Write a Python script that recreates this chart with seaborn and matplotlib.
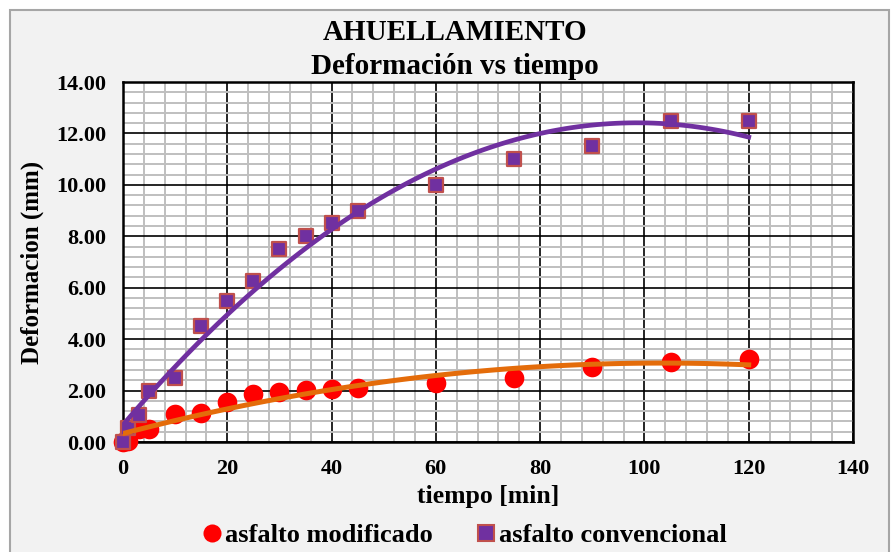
import matplotlib
matplotlib.use("Agg")
import matplotlib.pyplot as plt
import seaborn as sns
import pandas as pd
import numpy as np
from matplotlib.ticker import MultipleLocator, FormatStrFormatter
from matplotlib.lines import Line2D
from matplotlib.patches import Rectangle

# ---- data ----
tiempo = [0, 1, 3, 5, 10, 15, 20, 25, 30, 35, 40, 45, 60, 75, 90, 105, 120]
modificado = [0.0, 0.05, 0.5, 0.5, 1.08, 1.12, 1.55, 1.85, 1.95, 2.02, 2.08, 2.1, 2.3, 2.48, 2.9, 3.1, 3.22]
convencional = [0.0, 0.55, 1.05, 2.0, 2.5, 4.5, 5.5, 6.25, 7.5, 8.0, 8.5, 9.0, 10.0, 11.0, 11.5, 12.5, 12.5]
labels = ["asfalto modificado", "asfalto convencional"]
title_lines = ["AHUELLAMIENTO", "Deformación vs tiempo"]
xlabel = "tiempo [min]"
ylabel = "Deformacion (mm)"

df = pd.DataFrame({"t": tiempo, "mod": modificado, "conv": convencional})

plt.rcParams["font.family"] = ["Liberation Serif", "DejaVu Serif"]
plt.rcParams["font.weight"] = "bold"

W, H = 893, 552
fig = plt.figure(figsize=(W / 100, H / 100), dpi=100, facecolor="white")
fig.patches.append(Rectangle((10 / W, -0.05), (879) / W, (H - 10) / H + 0.05,
                             transform=fig.transFigure, facecolor="#F2F2F2",
                             edgecolor="#A6A6A6", linewidth=1.5, zorder=-10))

ax = fig.add_axes([123 / W, (H - 442) / H, 730 / W, 360 / H])
ax.set_facecolor("white")

red = "#FF0000"
purple = "#7030A0"
orange = "#E46C0A"
edge = "#C0504D"

sns.scatterplot(data=df, x="t", y="mod", ax=ax, color=red, s=200, marker="o",
                linewidth=0, zorder=6, clip_on=False)
sns.scatterplot(data=df, x="t", y="conv", ax=ax, color=purple, s=105, marker="s",
                edgecolor=edge, linewidth=1.6, zorder=6, clip_on=False)
sns.regplot(data=df, x="t", y="mod", ax=ax, order=2, scatter=False, ci=None,
            truncate=True, line_kws=dict(color=orange, lw=3.6, zorder=7))
sns.regplot(data=df, x="t", y="conv", ax=ax, order=2, scatter=False, ci=None,
            truncate=True, line_kws=dict(color=purple, lw=3.4, zorder=7))

ax.set_xlim(0, 140)
ax.set_ylim(0, 14)
ax.xaxis.set_major_locator(MultipleLocator(20))
ax.xaxis.set_minor_locator(MultipleLocator(4))
ax.yaxis.set_major_locator(MultipleLocator(2))
ax.yaxis.set_minor_locator(MultipleLocator(0.4))
ax.yaxis.set_major_formatter(FormatStrFormatter("%.2f"))
ax.set_axisbelow(True)
ax.grid(which="minor", color="#BFBFBF", lw=1.4)
ax.grid(which="major", color="black", lw=1.2)
ax.tick_params(which="both", length=0)
ax.tick_params(axis="y", pad=12, labelsize=16)
ax.tick_params(axis="x", pad=12, labelsize=16)
for lab in ax.get_xticklabels() + ax.get_yticklabels():
    lab.set_fontweight("bold")
for sp in ax.spines.values():
    sp.set_color("black")
    sp.set_linewidth(1.8)
    sp.set_zorder(5)

ax.set_xlabel(xlabel, fontsize=18.5, fontweight="bold", va="center")
ax.xaxis.set_label_coords(0.5, (442 - 497) / 360)
ax.set_ylabel(ylabel, fontsize=18, fontweight="bold", va="center")
ax.yaxis.set_label_coords((32 - 123) / 730, 0.5)

fig.text(455 / W, 1 - 32 / H, title_lines[0], ha="center", va="center",
         fontsize=21, fontweight="bold")
fig.text(455 / W, 1 - 66 / H, title_lines[1], ha="center", va="center",
         fontsize=21, fontweight="bold")

handles = [
    Line2D([], [], marker="o", ls="none", color=red, markersize=13, markeredgewidth=0),
    Line2D([], [], marker="s", ls="none", color=purple, markersize=11,
           markeredgecolor=edge, markeredgewidth=1.5),
]
fig.legend(handles, labels, loc="center", bbox_to_anchor=(464 / W, (H - 535) / H),
           ncol=2, frameon=False, prop=dict(size=19, weight="bold"),
           handletextpad=0.1, columnspacing=1.6, handlelength=0.8, borderaxespad=0)

fig.savefig("out.png", dpi=100, facecolor="white")
